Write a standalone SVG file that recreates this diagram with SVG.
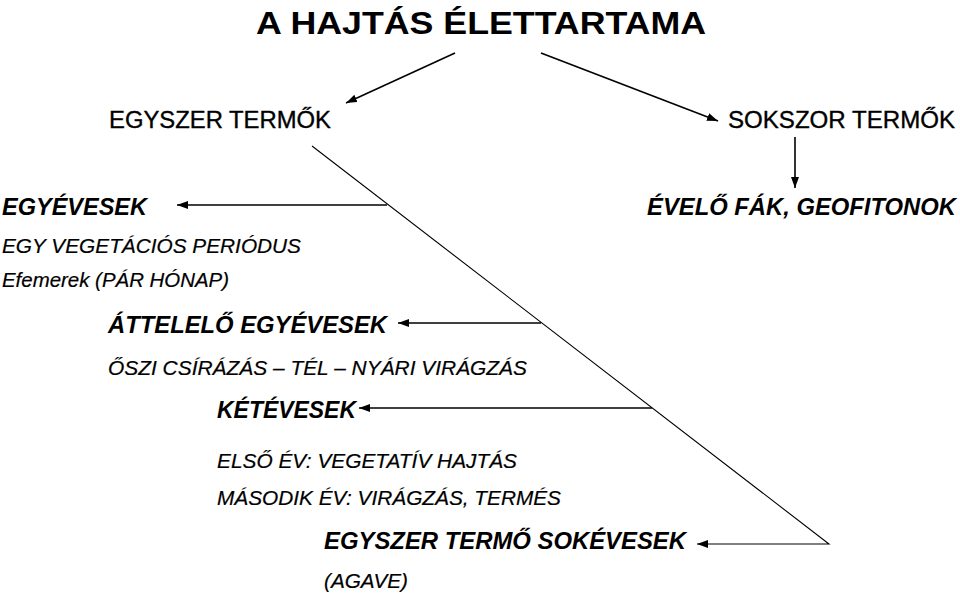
<svg xmlns="http://www.w3.org/2000/svg" width="960" height="598" viewBox="0 0 960 598">
<style>
text{font-family:"Liberation Sans",Arial,sans-serif;fill:#000}
.t{font-size:32px;font-weight:bold}
.h{font-size:23px;stroke:#000;stroke-width:0.35}
.bi{font-size:23.5px;font-weight:bold;font-style:italic}
.i{font-size:20.5px;font-style:italic;stroke:#000;stroke-width:0.2}
.c{stroke:#000;fill:none}
</style>
<defs>
<marker id="ah" viewBox="0 0 11 8" refX="11" refY="4" markerWidth="11" markerHeight="8" markerUnits="userSpaceOnUse" orient="auto">
<path d="M0,0 L11,4 L0,8 Z" fill="#000"/>
</marker>
</defs>
<rect width="960" height="598" fill="#fff"/>
<g id="title"><text class="t" x="256" y="34" textLength="450" lengthAdjust="spacingAndGlyphs">A HAJTÁS ÉLETTARTAMA</text></g>
<g id="egyszer"><text class="h" x="109" y="128" textLength="222" lengthAdjust="spacingAndGlyphs">EGYSZER TERMŐK</text></g>
<g id="sokszor"><text class="h" x="728" y="128" textLength="227" lengthAdjust="spacingAndGlyphs">SOKSZOR TERMŐK</text></g>
<g id="evelo"><text class="bi" x="647" y="215" textLength="309" lengthAdjust="spacingAndGlyphs">ÉVELŐ FÁK, GEOFITONOK</text></g>
<g id="egyevesek">
<text class="bi" x="2" y="215" textLength="145" lengthAdjust="spacingAndGlyphs">EGYÉVESEK</text>
<text class="i" x="2" y="253" textLength="299" lengthAdjust="spacingAndGlyphs">EGY VEGETÁCIÓS PERIÓDUS</text>
<text class="i" x="2" y="287" textLength="227" lengthAdjust="spacingAndGlyphs">Efemerek (PÁR HÓNAP)</text>
</g>
<g id="attelelo">
<text class="bi" x="108" y="333" textLength="279" lengthAdjust="spacingAndGlyphs">ÁTTELELŐ EGYÉVESEK</text>
<text class="i" x="108" y="375" textLength="419" lengthAdjust="spacingAndGlyphs">ŐSZI CSÍRÁZÁS – TÉL – NYÁRI VIRÁGZÁS</text>
</g>
<g id="ketevesek">
<text class="bi" x="217" y="418" textLength="139" lengthAdjust="spacingAndGlyphs">KÉTÉVESEK</text>
<text class="i" x="217" y="468" textLength="300" lengthAdjust="spacingAndGlyphs">ELSŐ ÉV: VEGETATÍV HAJTÁS</text>
<text class="i" x="217" y="505" textLength="344" lengthAdjust="spacingAndGlyphs">MÁSODIK ÉV: VIRÁGZÁS, TERMÉS</text>
</g>
<g id="sokevesek">
<text class="bi" x="324" y="549" textLength="362" lengthAdjust="spacingAndGlyphs">EGYSZER TERMŐ SOKÉVESEK</text>
<text class="i" x="324" y="588" textLength="84" lengthAdjust="spacingAndGlyphs">(AGAVE)</text>
</g>
<g id="connectors">
<line class="c" stroke-width="1.6" x1="455" y1="53" x2="346" y2="103" marker-end="url(#ah)"/>
<line class="c" stroke-width="1.6" x1="541" y1="53" x2="718" y2="121" marker-end="url(#ah)"/>
<line class="c" stroke-width="1.6" x1="795" y1="137" x2="795" y2="188" marker-end="url(#ah)"/>
<polyline class="c" stroke-width="1.1" points="312,146 829,544 697,544" marker-end="url(#ah)"/>
<line class="c" stroke-width="1.3" x1="387" y1="205" x2="177" y2="205" marker-end="url(#ah)"/>
<line class="c" stroke-width="1.3" x1="541" y1="323" x2="398" y2="323" marker-end="url(#ah)"/>
<line class="c" stroke-width="1.3" x1="652" y1="408" x2="359" y2="408" marker-end="url(#ah)"/>
</g>
</svg>
